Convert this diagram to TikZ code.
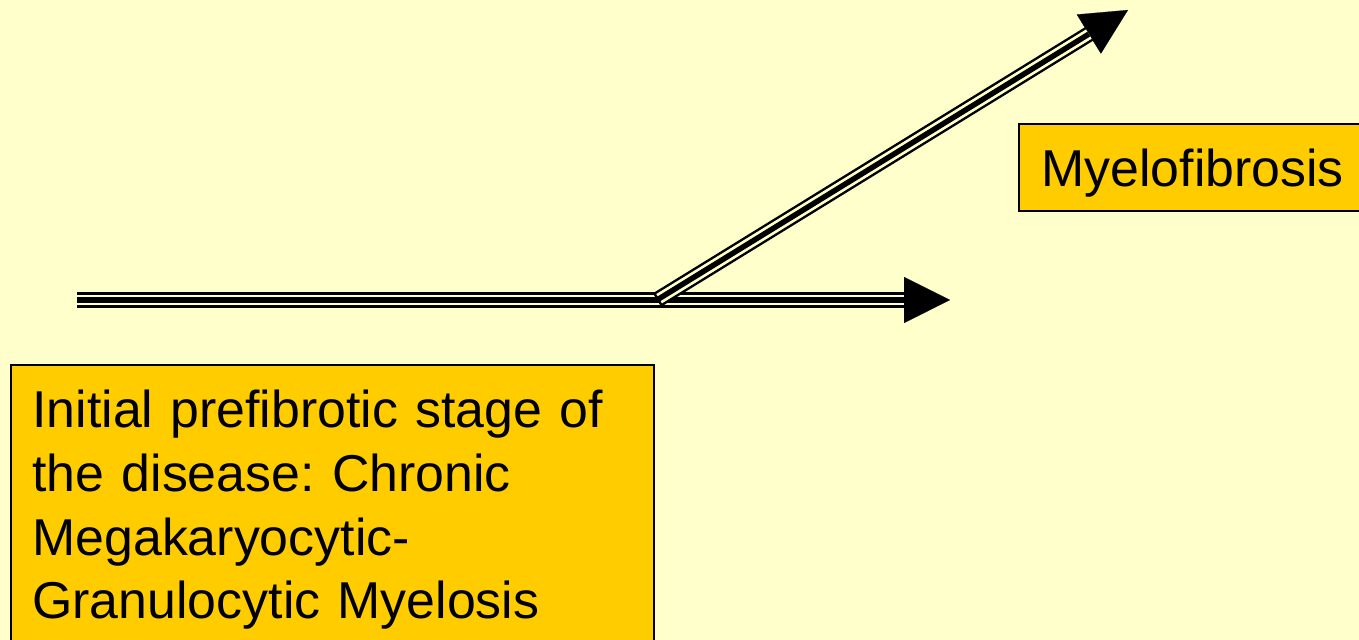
\documentclass[tikz,border=0pt]{standalone}
\usepackage{fontspec}
\setmainfont{Liberation Sans}
\usetikzlibrary{arrows.meta,positioning}
\definecolor{paper}{HTML}{FFFFCC}
\definecolor{gold}{HTML}{FFCC00}
\frenchspacing

\begin{document}
\begin{tikzpicture}[
        label/.style = {rectangle, draw=black, line width=1pt, fill=gold, align=left, font=\fontsize{29.5pt}{36.3pt}\selectfont, inner xsep=0.43cm},
        triple/.style = {line width=9pt, draw=black, -{Triangle[length=0.92cm, width=0.92cm, line width=0.1pt]},
            postaction={draw=paper, line width=6.2pt, -, shorten >=0.92cm, shorten <=#1},
            postaction={draw=black, line width=3.1pt, -, shorten >=0.92cm}},
        triple/.default = 0pt
    ]
        % Page and background
        \fill[paper] (0, 0) rectangle (27.18, 12.8);
        \useasboundingbox (0, 0) rectangle (27.18, 12.8);

        % Arrow end points
        \coordinate (start) at (1.54, 6.8);
        \coordinate (fork) at (13.14, 6.8);
        \coordinate (stable) at (19.0, 6.8);
        \coordinate (fibro) at (22.56, 12.6);

        % Course of the disease
        \draw[triple] (start) -- (stable);
        \draw[triple=0.05cm] (fork) -- (fibro);

        % Stages
        \node[label, anchor=west, minimum width=7cm, minimum height=1.74cm, text width=6.1cm, text depth=0pt] (myelo) at (20.36, 9.45) {Myelofibrosis};
        \node[label, anchor=north west, inner ysep=0.5cm, text width=12.0cm] (initial) at (0.2, 5.52) {Initial prefibrotic stage of\\the disease: Chronic\\Megakaryocytic-\\Granulocytic Myelosis};

    \end{tikzpicture}
\end{document}
